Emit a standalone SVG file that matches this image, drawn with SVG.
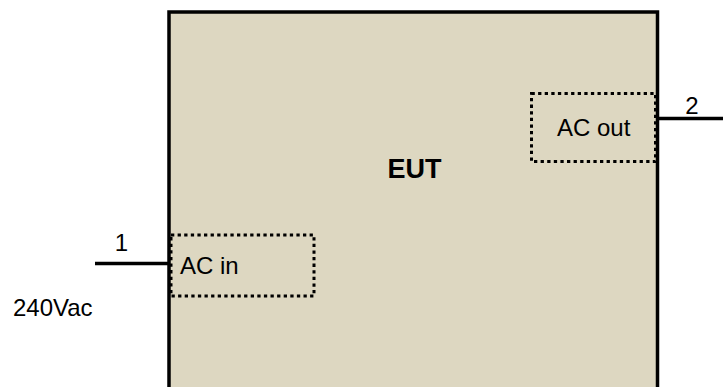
<svg xmlns="http://www.w3.org/2000/svg" width="723" height="387" viewBox="0 0 723 387">
<style>
text{font-family:"Liberation Sans",Arial,sans-serif;fill:#000}
.lbl{font-size:24px}
.num{font-size:24px}
.dot{fill:none;stroke:#000;stroke-width:3;stroke-dasharray:3.3 3.3}
.wire{stroke:#000;stroke-width:3.5}
</style>
<g id="eut">
<rect x="169" y="12" width="488.5" height="400" fill="#DDD7C1" stroke="#000" stroke-width="3.5"/>
<text x="414.5" y="177.5" font-size="27" font-weight="bold" text-anchor="middle">EUT</text>
</g>
<g id="ac-in">
<rect class="dot" x="171" y="235" width="143" height="61"/>
<text class="lbl" x="180" y="274">AC in</text>
</g>
<g id="ac-out">
<rect class="dot" x="531.5" y="93.5" width="124" height="68"/>
<text class="lbl" x="557" y="136">AC out</text>
</g>
<g id="connectors">
<line class="wire" x1="95" y1="263.5" x2="168" y2="263.5"/>
<line class="wire" x1="659" y1="118.5" x2="723" y2="118.5"/>
</g>
<g id="labels">
<text class="num" x="121.5" y="251" text-anchor="middle">1</text>
<text class="num" x="692" y="114" text-anchor="middle">2</text>
<text class="lbl" x="13" y="316">240Vac</text>
</g>
</svg>
